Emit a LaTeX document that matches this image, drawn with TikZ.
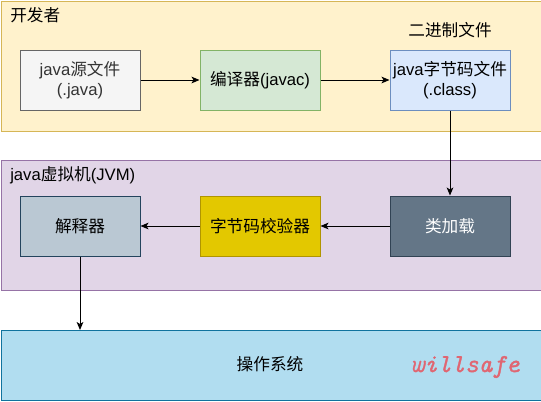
\documentclass[tikz,border=0pt]{standalone}
\usepackage{fontspec}
\setmainfont{Liberation Sans}
\newfontfamily\cjk{Noto Sans CJK SC}
\newfontfamily\wmfont[FakeBold=1.2]{Latin Modern Mono}
\usetikzlibrary{arrows.meta}
\definecolor{devfill}{HTML}{FFF2CC}\definecolor{devline}{HTML}{D6B656}
\definecolor{jvmfill}{HTML}{E1D5E7}\definecolor{jvmline}{HTML}{9673A6}
\definecolor{osfill}{HTML}{B1DDF0}\definecolor{osline}{HTML}{10739E}
\definecolor{srcfill}{HTML}{F5F5F5}\definecolor{srcline}{HTML}{666666}\definecolor{srctext}{HTML}{333333}
\definecolor{cmpfill}{HTML}{D5E8D4}\definecolor{cmpline}{HTML}{82B366}
\definecolor{clsfill}{HTML}{DAE8FC}\definecolor{clsline}{HTML}{6C8EBF}
\definecolor{intfill}{HTML}{BAC8D3}\definecolor{intline}{HTML}{23445D}
\definecolor{verfill}{HTML}{E3C800}\definecolor{verline}{HTML}{B09500}
\definecolor{ldrfill}{HTML}{647687}\definecolor{ldrline}{HTML}{314354}
\definecolor{wmcolor}{HTML}{E06672}
\tikzset{
  px/.style={x=0.75pt,y=-0.75pt},
  container/.style={draw, line width=0.75pt, minimum width=405pt, inner sep=0pt},
  box/.style={draw, line width=0.75pt, minimum width=90pt, minimum height=45pt, inner sep=1pt, align=center, font=\fontsize{12.5}{15}\selectfont},
  lbl/.style={font=\fontsize{12.5}{15}\selectfont, inner sep=0pt},
  conn/.style={line width=0.75pt, -{Stealth[length=6pt,width=5pt,inset=1.5pt]}}
}
\begin{document}
\begin{tikzpicture}[px]
\useasboundingbox (0,0) rectangle (541,401);
% containers
\node[container, fill=devfill, draw=devline, minimum height=97.5pt, anchor=north west] (dev) at (0.5,0.5) {};
\node[container, fill=jvmfill, draw=jvmline, minimum height=97.5pt, anchor=north west] (jvm) at (0.5,160) {};
\node[container, fill=osfill, draw=osline, minimum height=52.5pt, anchor=north west] (os) at (0.5,330) {};
% labels
\node[lbl, anchor=west] (devlbl) at (10,15) {\cjk 开发者};
\node[lbl] (binlbl) at (450,30) {\cjk 二进制文件};
\node[lbl, anchor=west] (jvmlbl) at (10,175) {java{\cjk 虚拟机}(JVM)};
\node[lbl] (oslbl) at (270,364) {\cjk 操作系统};
\node[inner sep=0pt, text=wmcolor, font=\wmfont\itshape\fontsize{19.5}{22}\selectfont] (wm) at (465,367) {willsafe};
% top row
\node[box, fill=srcfill, draw=srcline, text=srctext] (src) at (80,80) {java{\cjk 源文件}\\(.java)};
\node[box, fill=cmpfill, draw=cmpline] (cmp) at (260,80) {{\cjk 编译器}(javac)};
\node[box, fill=clsfill, draw=clsline] (cls) at (450,80) {java{\cjk 字节码文件}\\(.class)};
% jvm row
\node[box, fill=intfill, draw=intline] (int) at (80,226) {\cjk 解释器};
\node[box, fill=verfill, draw=verline] (ver) at (260,226) {\cjk 字节码校验器};
\node[box, fill=ldrfill, draw=ldrline, text=white] (ldr) at (450,226) {\cjk 类加载};
% connectors
\draw[conn] (src) -- (cmp);
\draw[conn] (cmp) -- (cls);
\draw[conn] (cls) -- (ldr);
\draw[conn] (ldr) -- (ver);
\draw[conn] (ver) -- (int);
\draw[conn] (int.south) -- (int.south |- os.north);
\end{tikzpicture}
\end{document}
